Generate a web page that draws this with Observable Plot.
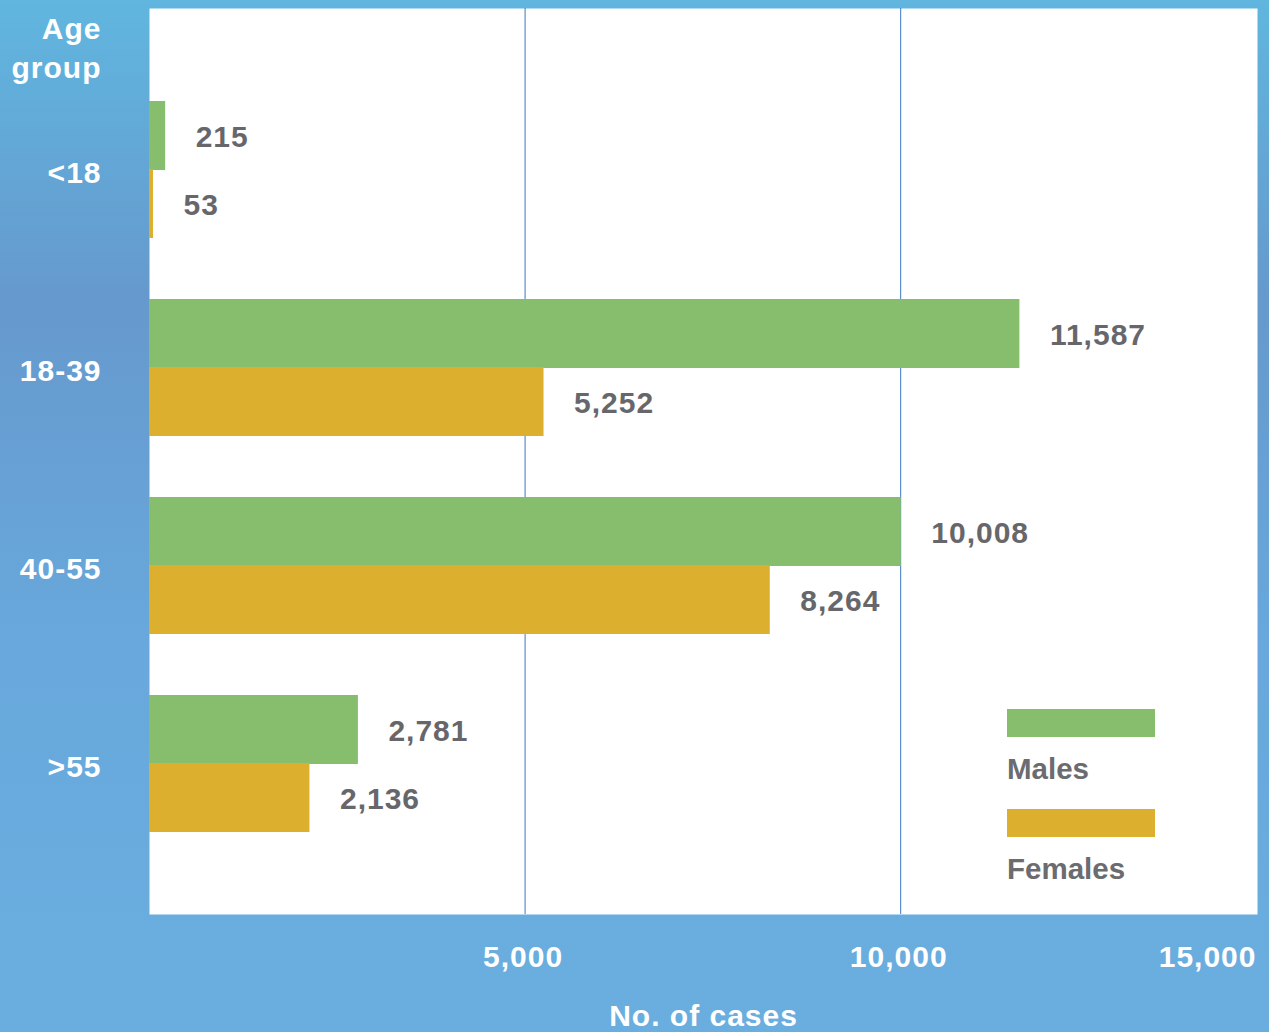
<!DOCTYPE html>
<html>
<head>
<meta charset="utf-8">
<script src="https://cdn.jsdelivr.net/npm/d3@7"></script>
<script src="https://cdn.jsdelivr.net/npm/@observablehq/plot@0.6"></script>
<style>
  html, body { margin: 0; padding: 0; }
  #wrap {
    position: relative; width: 1269px; height: 1032px; overflow: hidden;
    background: linear-gradient(to bottom, #60b6df 0%, #6699cd 29%, #68a8dc 62%, #6aaedf 100%);
    font-family: "Liberation Sans", Arial, Helvetica, sans-serif;
  }
  #chart svg { display: block; }
  .leg-swatch { position: absolute; left: 1007px; width: 148px; height: 28px; }
  .leg-label { position: absolute; left: 1007px; font-size: 29.5px; font-weight: bold; color: #6b6b70; line-height: 1; }
</style>
</head>
<body>
<div id="wrap">
  <div id="chart"></div>
  <div class="leg-swatch" style="top:709px;background:#86be6d"></div>
  <div class="leg-label" style="top:754px">Males</div>
  <div class="leg-swatch" style="top:809px;background:#dcb02e"></div>
  <div class="leg-label" style="top:854px">Females</div>
</div>
<script>
const ages = ["<18", "18-39", "40-55", ">55"];
const males = [215, 11587, 10008, 2781];
const females = [53, 5252, 8264, 2136];
const tickValues = [5000, 10000, 15000];
const gridValues = [5000, 10000];
const sexes = ["Males", "Females"];
const colors = ["#86be6d", "#dcb02e"];

const rows = [];
ages.forEach((a, i) => {
  rows.push({age: a, sex: "Males", value: males[i]});
  rows.push({age: a, sex: "Females", value: females[i]});
});
const mRows = rows.filter(d => d.sex === "Males");
const fRows = rows.filter(d => d.sex === "Females");
const fmt = d3.format(",");
const half = 68;
const font = "Liberation Sans, Arial, Helvetica, sans-serif";
const fs = 30;

const chart = Plot.plot({
  width: 1269,
  height: 1032,
  marginLeft: 149,
  marginRight: 12,
  marginTop: 8,
  marginBottom: 118,
  style: {fontFamily: font, background: "transparent", overflow: "visible", letterSpacing: "1px"},
  x: {domain: [0, 14750], clamp: true, axis: null},
  y: {domain: ages, range: [70, 862], paddingInner: 0.31, paddingOuter: 0.155, axis: null},
  color: {domain: sexes, range: colors},
  marks: [
    Plot.frame({fill: "white", stroke: "none"}),
    Plot.ruleX(gridValues, {stroke: "#3a78c0", strokeWidth: 1}),
    Plot.barX(mRows, {x: "value", y: "age", fill: "sex", insetBottom: half, insetTop: 0}),
    Plot.barX(fRows, {x: "value", y: "age", fill: "sex", insetTop: half, insetBottom: 0}),
    Plot.text(mRows, {x: "value", y: "age", text: d => fmt(d.value), dx: 30, dy: -33, textAnchor: "start",
      fill: "#67676b", fontSize: fs, fontWeight: "bold"}),
    Plot.text(fRows, {x: "value", y: "age", text: d => fmt(d.value), dx: 30, dy: 35, textAnchor: "start",
      fill: "#67676b", fontSize: fs, fontWeight: "bold"}),
    // y-axis labels
    Plot.text(ages, {x: 0, y: d => d, text: d => d, dx: -48, dy: 3, textAnchor: "end",
      fill: "white", fontSize: fs, fontWeight: "bold"}),
    Plot.text(["Age\ngroup"], {frameAnchor: "top-left", dx: -48, dy: 2, textAnchor: "end", lineAnchor: "top",
      lineHeight: 1.32, fill: "white", fontSize: fs, fontWeight: "bold"}),
    // x-axis tick labels
    Plot.text(tickValues.slice(0, -1), {x: d => d, text: d => fmt(d), frameAnchor: "bottom", dy: 52, dx: -2,
      textAnchor: "middle", fill: "white", fontSize: fs, fontWeight: "bold"}),
    Plot.text(tickValues.slice(-1), {x: d => d, text: d => fmt(d), frameAnchor: "bottom", dy: 52, dx: -1,
      textAnchor: "end", fill: "white", fontSize: fs, fontWeight: "bold"}),
    Plot.text(["No. of cases"], {frameAnchor: "bottom", dy: 111, textAnchor: "middle",
      fill: "white", fontSize: fs, fontWeight: "bold"})
  ]
});
document.getElementById("chart").appendChild(chart);
</script>
</body>
</html>
